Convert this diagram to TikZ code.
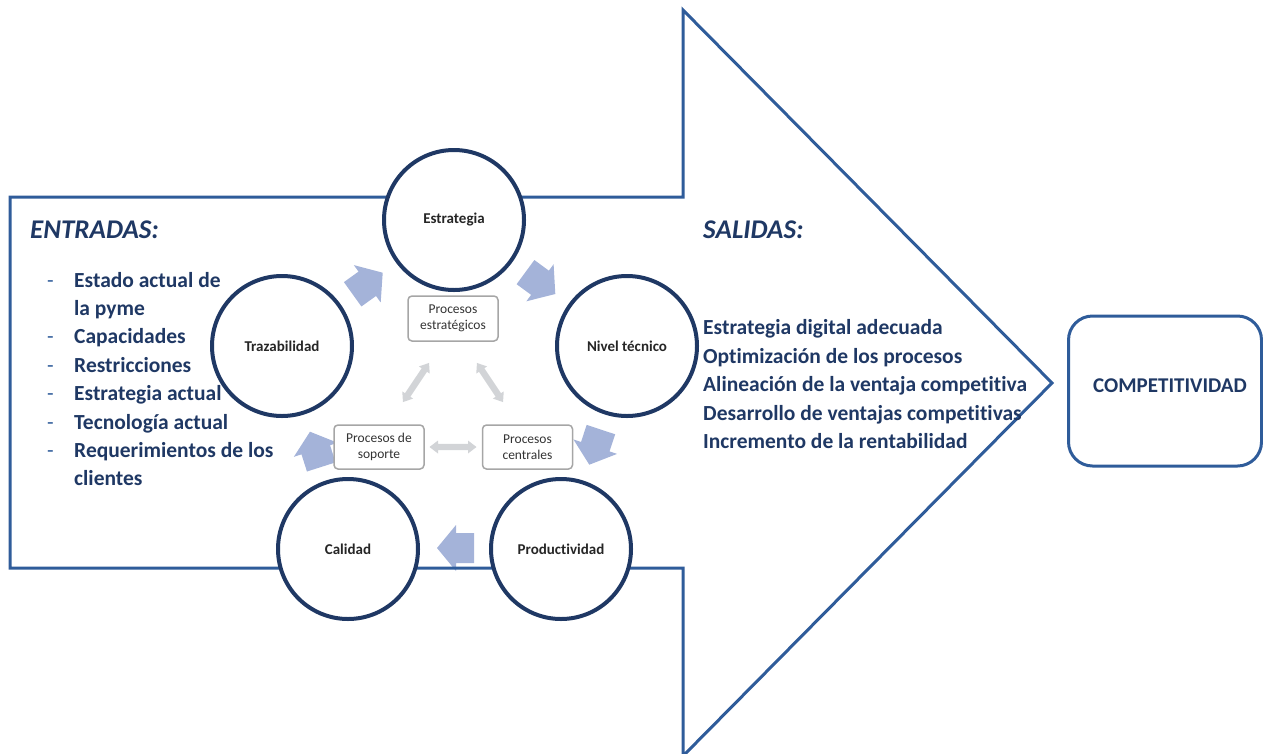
\documentclass[tikz,border=0pt]{standalone}
\usepackage{fontspec}
\setmainfont{Carlito}[Ligatures={NoCommon}]
\definecolor{outl}{RGB}{47,92,154}
\definecolor{navy}{RGB}{31,56,100}
\definecolor{barrow}{RGB}{164,179,217}
\definecolor{gbox}{RGB}{166,166,166}
\definecolor{garrow}{RGB}{210,212,215}
\tikzset{
  circ/.style={circle, draw=navy, line width=4pt, fill=white, minimum size=140pt, inner sep=0pt,
    font=\bfseries\fontsize{15}{18}\selectfont, text=black!85},
  procbox/.style={draw=gbox, line width=1.5pt, rounded corners=4pt, fill=white, minimum width=90pt,
    minimum height=44pt, inner sep=1pt, align=center, font=\fontsize{13.5}{15.5}\selectfont, text=black!80},
  headtxt/.style={anchor=base west, inner sep=0pt, font=\bfseries\itshape\fontsize{27}{32}\selectfont, text=navy},
  lefttxt/.style={anchor=base west, inner sep=0pt, font=\bfseries\fontsize{21.5}{25}\selectfont, text=navy},
  righttxt/.style={anchor=base west, inner sep=0pt, font=\bfseries\fontsize{21.5}{25}\selectfont, text=navy},
  dashtxt/.style={anchor=base west, inner sep=0pt, font=\fontsize{21.5}{25}\selectfont, text=outl},
  blockarrow/.pic={\fill[barrow] (0,0) -- (-19,23) -- (-19,15) -- (-37,15) -- (-37,-15) -- (-19,-15) -- (-19,-23) -- cycle;},
  dblarrow/.pic={\fill[garrow] (23.5,0) -- (15,6.5) -- (15,3.2) -- (-15,3.2) -- (-15,6.5) -- (-23.5,0)
     -- (-15,-6.5) -- (-15,-3.2) -- (15,-3.2) -- (15,-6.5) -- cycle;}
}
\begin{document}
\begin{tikzpicture}[x=1pt,y=-1pt]
\useasboundingbox (0,0) rectangle (1263,753);
% blue block arrows between circles
\pic[rotate=35.7] at (382.7,272.7) {blockarrow};
\pic[rotate=-36.3] at (555.3,294) {blockarrow};
\pic[rotate=-108.3] at (589.3,464.7) {blockarrow};
\pic[rotate=180] at (437,548) {blockarrow};
\pic[rotate=107.7] at (310,431.7) {blockarrow};
% big arrow outline
\draw[outl, line width=3pt, line join=miter] (10,197) -- (683,197) -- (683,10) -- (1052,383) -- (683,756) -- (683,568) -- (10,568) -- cycle;
% circles
\node[circ] (estr) at (454,220) {Estrategia};
\node[circ] (traz) at (282,346) {Trazabilidad};
\node[circ] (nivel) at (627,346) {Nivel técnico};
\node[circ] (cal) at (348,549) {Calidad};
\node[circ] (prod) at (561,549) {Productividad};
% process boxes
\node[procbox, minimum height=45pt] (pe) at (453,318.5) {Procesos\\estratégicos};
\node[procbox] (ps) at (379,447) {Procesos de\\soporte};
\node[procbox] (pc) at (527.5,447) {Procesos\\centrales};
% gray double arrows
\pic[rotate=56.3] at (416,382.5) {dblarrow};
\pic[rotate=-56.3] at (490,382.5) {dblarrow};
\pic at (453,447) {dblarrow};
% entradas
\node[headtxt] (entr) at (30,238) {ENTRADAS:};
\foreach \t/\y/\d [count=\i] in {Estado actual de/287/1, la pyme/315.4/0, Capacidades/343.8/1,
   Restricciones/372.2/1, Estrategia actual/400.6/1, Tecnología actual/429/1,
   Requerimientos de los/457.4/1, clientes/485.8/0}{
  \node[lefttxt] (in\i) at (74,\y) {\t};
  \ifnum\d=1 \node[dashtxt] (dash\i) at (47,\y) {-}; \fi
}
% salidas
\node[headtxt] (sal) at (703,238) {SALIDAS:};
\foreach \t/\y [count=\i] in {Estrategia digital adecuada/334.5, Optimización de los procesos/363,
   Alineación de la ventaja competitiva/391.5, Desarrollo de ventajas competitivas/420,
   Incremento de la rentabilidad/448.5}{
  \node[righttxt] (out\i) at (703,\y) {\t};
}
% competitividad
\node[draw=outl, line width=3pt, rounded corners=24pt, minimum width=193pt, minimum height=150pt] (comp) at (1165,391) {};
\node[anchor=base, font=\bfseries\fontsize{21}{25}\selectfont, text=navy] (comptxt) at (1170,392) {COMPETITIVIDAD};
\end{tikzpicture}
\end{document}
